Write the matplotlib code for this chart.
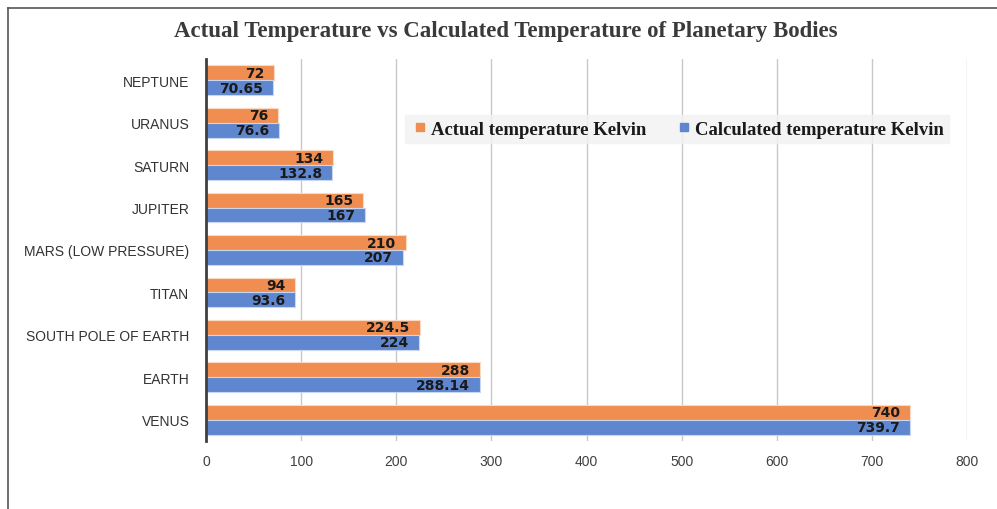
import matplotlib
matplotlib.use("Agg")
import matplotlib.pyplot as plt
import numpy as np
from matplotlib.lines import Line2D

categories = ["VENUS", "EARTH", "SOUTH POLE OF EARTH", "TITAN", "MARS (LOW PRESSURE)",
              "JUPITER", "SATURN", "URANUS", "NEPTUNE"]
actual = [740, 288, 224.5, 94, 210, 165, 134, 76, 72]
calculated = [739.7, 288.14, 224, 93.6, 207, 167, 132.8, 76.6, 70.65]
actual_labels = ["740", "288", "224.5", "94", "210", "165", "134", "76", "72"]
calc_labels = ["739.7", "288.14", "224", "93.6", "207", "167", "132.8", "76.6", "70.65"]
xticks = [0, 100, 200, 300, 400, 500, 600, 700, 800]

orange = "#EF8E50"
blue = "#5F87CF"

W, H = 997, 510
fig = plt.figure(figsize=(W / 100, H / 100), dpi=100)
ax = fig.add_axes([206 / W, 1 - 442 / H, (967 - 206) / W, (442 - 60) / H])

y = np.arange(len(categories))
h = 0.35
b1 = ax.barh(y + h / 2, actual, height=h, color=orange, edgecolor="#FBD9C2", linewidth=0.8, zorder=3)
b2 = ax.barh(y - h / 2, calculated, height=h, color=blue, edgecolor="#C9D6EF", linewidth=0.8, zorder=3)

lab_font = dict(fontsize=10, fontweight="bold", color="#1a1a1a", family="DejaVu Sans")
ax.bar_label(b1, labels=actual_labels, label_type="edge", padding=-7, **lab_font)
ax.bar_label(b2, labels=calc_labels, label_type="edge", padding=-7, **lab_font)
for t in ax.texts:
    t.set_horizontalalignment("right")

ax.set_xlim(0, 800)
ax.set_ylim(-0.5, len(categories) - 0.5)
ax.set_xticks(xticks)
ax.set_xticklabels([str(v) for v in xticks], fontsize=10, color="#404040", family="Liberation Sans")
ax.set_yticks(y)
ax.set_yticklabels(categories, fontsize=10, color="#333333", family="Liberation Sans")
ax.tick_params(axis="both", length=0)
ax.tick_params(axis="y", pad=12)
ax.tick_params(axis="x", pad=9)
ax.grid(axis="x", color="#C8C8C8", linewidth=1, zorder=0)
for s in ["top", "right", "bottom"]:
    ax.spines[s].set_visible(False)
ax.spines["left"].set_color("#404040")
ax.spines["left"].set_linewidth(2)
ax.spines["left"].set_zorder(4)

fig.text(506 / W, 1 - 31 / H, "Actual Temperature vs Calculated Temperature of Planetary Bodies",
         ha="center", va="center", fontsize=16.5, fontweight="bold", color="#3a3a3a",
         family="Liberation Serif")

handles = [Line2D([], [], marker="s", linestyle="none", markersize=6, color=orange),
           Line2D([], [], marker="s", linestyle="none", markersize=6, color=blue)]
leg = fig.legend(handles, ["Actual temperature Kelvin", "Calculated temperature Kelvin"],
                 loc="center", bbox_to_anchor=(677 / W, 1 - 130 / H), ncol=2,
                 prop={"family": "Liberation Serif", "weight": "bold", "size": 13.5},
                 frameon=True, fancybox=False, handletextpad=0.1, columnspacing=1.5,
                 borderpad=0.3, handlelength=1.0)
leg.get_frame().set_facecolor("#F2F2F2")
leg.get_frame().set_edgecolor("#F2F2F2")
for t in leg.get_texts():
    t.set_color("#1a1a1a")

# outer frame
fig.add_artist(Line2D([8 / W, 1], [1 - 9 / H, 1 - 9 / H], transform=fig.transFigure, color="#555555", linewidth=1.2))
fig.add_artist(Line2D([8 / W, 8 / W], [0, 1 - 9 / H], transform=fig.transFigure, color="#555555", linewidth=1.2))

fig.savefig("out.png", dpi=100)
